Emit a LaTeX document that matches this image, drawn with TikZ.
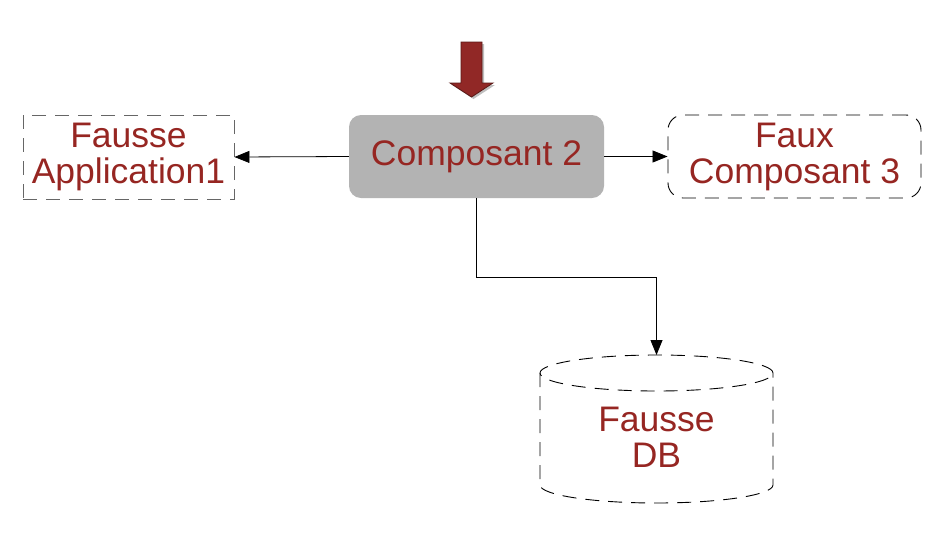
\documentclass[tikz,border=0pt]{standalone}
\usepackage{fontspec}
\setmainfont{Liberation Sans}
\usetikzlibrary{arrows.meta}
\definecolor{txtred}{RGB}{150,38,34}
\definecolor{boxgray}{RGB}{179,179,179}
\definecolor{arrred}{RGB}{145,40,38}
\definecolor{arrdark}{RGB}{90,25,22}
\begin{document}
\begin{tikzpicture}[x=1pt,y=1pt,
  lbl/.style={text=txtred,font=\fontsize{35.5}{36}\selectfont,align=center,inner sep=0pt},
  dashbox/.style={draw,line width=0.9pt,dash pattern=on 14pt off 9pt,minimum width=211pt,minimum height=84pt},
  conn/.style={line width=0.8pt,-{Triangle[length=15pt,width=12pt]}}
]
\useasboundingbox (0,0) rectangle (948,-547);
% nodes
\node[lbl,fill=boxgray,rounded corners=12pt,minimum width=255pt,minimum height=83pt] (c2) at (476.5,-156.5) {Composant 2};
\node[lbl,dashbox,draw=black!60,minimum width=211pt] (app) at (128.5,-157) {Fausse\\Application1};
\node[lbl,dashbox,rounded corners=15pt,minimum width=253pt,minimum height=83pt] (c3) at (794.5,-156.5) {Faux\\Composant 3};
% database cylinder
\coordinate (dbtop) at (656.5,-355);
\draw[line width=0.9pt,dash pattern=on 14pt off 9pt]
  (656.5,-373) ellipse[x radius=116.5,y radius=18];
\draw[line width=0.9pt,dash pattern=on 14pt off 9pt]
  (540,-373) -- (540,-485) arc[start angle=180,end angle=360,x radius=116.5,y radius=18] -- (773,-373);
\node[lbl] (db) at (656.5,-437) {Fausse\\DB};
% connectors
\draw[conn] (c2.west) -- (app.east);
\draw[conn] (c2.east) -- (c3.west);
\draw[conn] (c2.south) -- (c2.south |- 0,-277) -| (dbtop);
% incoming big arrow
\fill[black!25] (463,-44) -- (484,-44) -- (484,-85) -- (495,-85) -- (473.5,-99) -- (452,-85) -- (463,-85) -- cycle;
\filldraw[fill=arrred,draw=arrdark,line width=0.8pt] (461,-42) -- (482,-42) -- (482,-83) -- (493,-83) -- (471.5,-97) -- (450,-83) -- (461,-83) -- cycle;
\end{tikzpicture}
\end{document}
